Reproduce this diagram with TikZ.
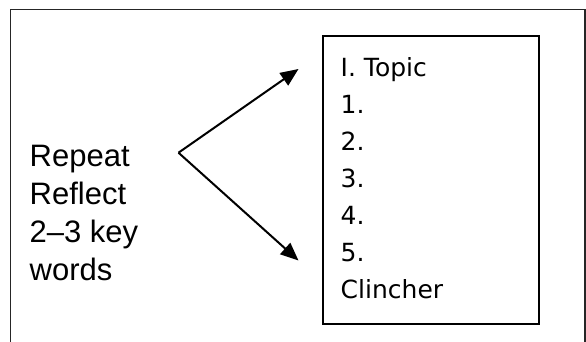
\documentclass[tikz,border=0pt]{standalone}
\usepackage{fontspec}
\setmainfont{Liberation Sans}
\newfontfamily\listfont{DejaVu Sans}
\usetikzlibrary{arrows.meta,positioning}
\tikzstyle{frame}=[draw=black!85,line width=1.4pt]
\tikzstyle{outlinebox}=[draw,line width=2pt,inner sep=0pt,minimum width=216pt,minimum height=288pt]
\tikzstyle{pointer}=[line width=2pt,-{Triangle[length=18pt,width=15pt]}]
\tikzstyle{cuewords}=[inner sep=0pt,align=left,font=\fontsize{31}{38}\selectfont]
\tikzstyle{paralist}=[inner sep=0pt,align=left,font=\listfont\fontsize{25}{37}\selectfont]

\begin{document}
\begin{tikzpicture}[x=1pt,y=-1pt]
	\clip (0,0) rectangle (586,341);
	%outer frame, open at the bottom
	\draw[frame] (10.5,350) |- (585,9.2) -- (585,350);
	%the paragraph outline
	\node[outlinebox,anchor=north west] (outline) at (322.3,34.7) {};
	\node[paralist,anchor=north west] (items) at (340.5,57.3)
		{I. Topic\\1.\\2.\\3.\\4.\\5.\\Clincher};
	%left words
	\node[cuewords,anchor=north west] (cues) at (29.5,145)
		{Repeat\\Reflect\\2--3 key\\words};
	%arrows
	\coordinate (apex) at (178.5,152.7);
	\coordinate (tiptop) at (298.5,69);
	\coordinate (tipbottom) at (298.5,260.5);
	\draw[pointer] (apex) -- (tiptop);
	\draw[pointer] (apex) -- (tipbottom);
\end{tikzpicture}
\end{document}
